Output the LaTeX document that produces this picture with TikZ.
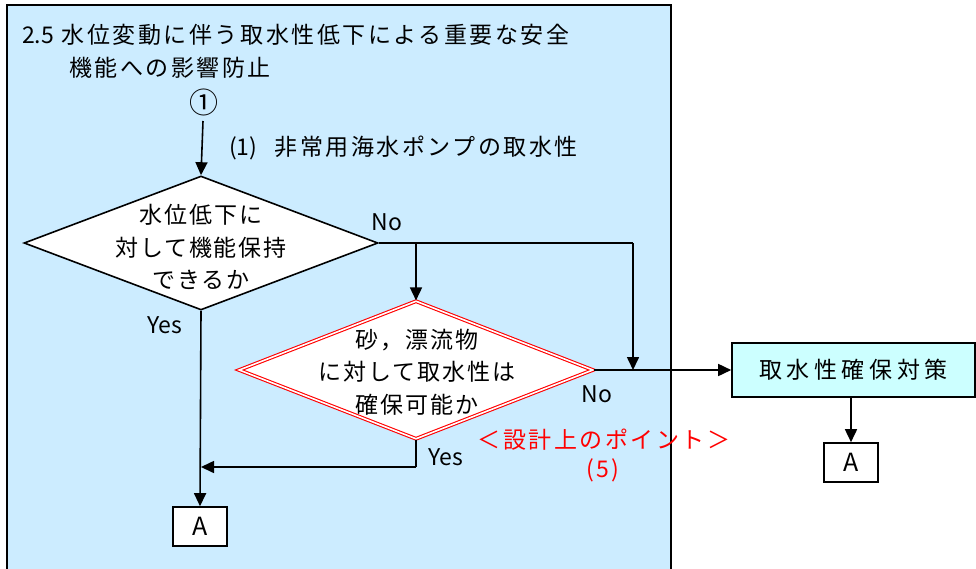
\documentclass[tikz,border=0pt]{standalone}
\usepackage{fontspec}
\setmainfont{Noto Sans CJK JP}
\newfontfamily\jp[LetterSpace=11]{Noto Sans CJK JP}
\newfontfamily\jpd[LetterSpace=8]{Noto Sans CJK JP}
\newfontfamily\jpw[LetterSpace=20]{Noto Sans CJK JP}
\usetikzlibrary{shapes.geometric,arrows.meta}
\definecolor{panelblue}{RGB}{204,236,255}
\definecolor{boxcyan}{RGB}{204,255,255}
\definecolor{ptred}{RGB}{255,0,0}
\begin{document}
\begin{tikzpicture}[x=1pt,y=-1pt,
  every node/.style={inner sep=0pt, font=\fontsize{23}{32}\selectfont\jp},
  conn/.style={line width=1.6pt, draw=black},
  arr/.style={conn, -{Triangle[length=13pt,width=12pt]}},
  dia/.style={diamond, draw=black, line width=1.6pt, fill=white, inner sep=0pt},
  reddia/.style={diamond, draw=ptred, line width=1.1pt, double=white, double distance=1.6pt, fill=white, inner sep=0pt},
  abox/.style={draw=black, line width=1.6pt, fill=white, minimum width=54pt, minimum height=39pt, font=\fontsize{25}{30}\selectfont\rmfamily},
  dtxt/.style={align=center, font=\fontsize{23}{32.5}\selectfont\jpd},
  lbl/.style={font=\fontsize{23}{26}\selectfont\rmfamily},
  redtxt/.style={text=ptred, font=\fontsize{23}{26}\selectfont\jp}
]
\useasboundingbox (0,0) rectangle (976,568);
\fill[white] (0,0) rectangle (976,568);
% panel
\draw[line width=1.4pt, fill=panelblue] (7,5) rectangle (671,600);
\node[anchor=west] (title1) at (22,35) {{\rmfamily 2.5} 水位変動に伴う取水性低下による重要な安全};
\node[anchor=west] (title2) at (69,68) {機能への影響防止};
\node[font=\fontsize{29}{30}\selectfont\rmfamily] (c1) at (204,102) {①};
\node[anchor=west] (sub) at (229,148) {{\rmfamily (1)}\hspace{17pt}非常用海水ポンプの取水性};
% decision 1
\node[dia, minimum width=354pt, minimum height=134pt] (d1) at (201,243) {};
\node[dtxt] (d1t) at (201,247) {水位低下に\\対して機能保持\\できるか};
% decision 2
\node[reddia, minimum width=354pt, minimum height=138pt] (d2) at (416,370) {};
\node[dtxt] (d2t) at (417,372) {砂，漂流物\\に対して取水性は\\確保可能か};
% measure box
\node[draw=black, line width=1.6pt, fill=boxcyan, minimum width=243pt, minimum height=54pt, font=\fontsize{23}{26}\selectfont\jpw] (m) at (853.5,370) {取水性確保対策};
% A boxes
\node[abox] (a1) at (200,526.5) {A};
\node[abox] (a2) at (851,462.5) {A};
% junction coordinates
\coordinate (br) at (416,243);
\coordinate (rt) at (633,243);
\coordinate (jn) at (633,370);
\coordinate (yl) at (416,467);
\coordinate (yt) at (201,467);
% connectors
\draw[arr] (203,121) -- (d1.north);
\draw[conn] (d1.east) -- (rt);
\draw[arr] (rt) -- (jn);
\draw[arr] (br) -- (d2.north);
\draw[arr] (d2.east) -- (m.west);
\draw[arr] (d1.south) -- (a1.north);
\draw[conn] (d2.south) -- (yl);
\draw[arr] (yl) -- (yt);
\draw[arr] (m.south -| a2.north) -- (a2.north);
% labels
\node[lbl] (no1) at (387,222) {No};
\node[lbl] (yes1) at (165,325) {Yes};
\node[lbl] (no2) at (597,394) {No};
\node[lbl] (yes2) at (446,457) {Yes};
\node[redtxt] (pt) at (604,440) {＜設計上のポイント＞};
\node[redtxt] (pt5) at (603,470) {(5)};
\end{tikzpicture}
\end{document}
